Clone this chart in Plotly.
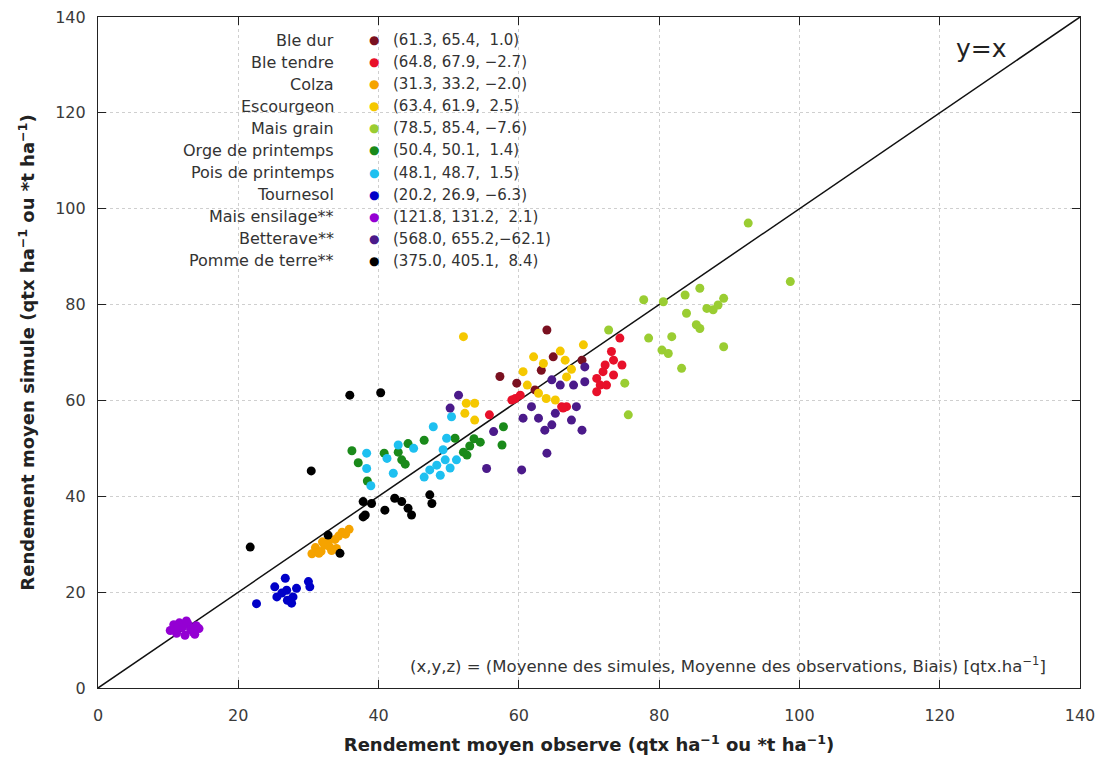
import plotly.graph_objects as go

# Crop names, colours and summary statistics (simulated mean, observed mean, bias)
crops = ["Ble dur", "Ble tendre", "Colza", "Escourgeon", "Mais grain",
         "Orge de printemps", "Pois de printemps", "Tournesol",
         "Mais ensilage**", "Betterave**", "Pomme de terre**"]
colors = ["#7a1020", "#e8102a", "#f5a300", "#f5c800", "#9acd32",
          "#1a8a1a", "#1ec0f0", "#0000c8", "#9400d3", "#4b1a8a", "#000000"]
stat_sim = [61.3, 64.8, 31.3, 63.4, 78.5, 50.4, 48.1, 20.2, 121.8, 568.0, 375.0]
stat_obs = [65.4, 67.9, 33.2, 61.9, 85.4, 50.1, 48.7, 26.9, 131.2, 655.2, 405.1]
stat_bias = [1.0, -2.7, -2.0, 2.5, -7.6, 1.4, 1.5, -6.3, 2.1, -62.1, 8.4]

# Observed (x) and simulated (y) mean yields per site
ble_dur_x = [64.0, 57.3, 59.7, 64.9, 63.2, 69.0, 62.3]
ble_dur_y = [74.7, 65.0, 63.6, 69.1, 66.3, 68.4, 62.2]

ble_tendre_x = [74.4, 73.2, 73.5, 72.3, 74.7, 73.5, 71.1, 71.6, 72.5, 71.1,
                66.8, 66.1, 59.5, 60.2, 59.0, 55.8, 66.3, 72.0]
ble_tendre_y = [73.0, 70.2, 68.4, 67.4, 67.4, 65.3, 64.6, 63.2, 63.2, 61.8,
                58.7, 58.7, 60.4, 61.1, 60.1, 57.0, 58.4, 66.0]

colza_x = [30.5, 31.0, 31.8, 32.3, 32.8, 33.3, 33.8, 34.3, 34.8, 35.3, 35.8,
           33.0, 34.0, 31.5, 32.0]
colza_y = [28.0, 29.3, 28.5, 29.8, 30.7, 28.7, 31.0, 31.7, 32.5, 32.1, 33.1,
           29.5, 29.1, 28.1, 30.5]

escourgeon_x = [52.1, 52.5, 53.7, 52.3, 53.7, 60.6, 61.2, 62.1, 63.5, 63.9,
                65.2, 65.9, 66.6, 66.8, 69.2, 67.5, 62.8]
escourgeon_y = [73.3, 59.4, 59.4, 57.3, 55.9, 66.0, 63.2, 69.1, 67.7, 60.4,
                60.1, 70.3, 68.4, 64.9, 71.6, 66.5, 61.5]

mais_grain_x = [92.7, 98.7, 77.8, 80.6, 83.7, 85.8, 83.9, 86.8, 87.7, 88.4,
                89.2, 85.8, 78.5, 81.8, 80.4, 81.3, 89.2, 83.2, 75.1, 75.6,
                72.8, 85.3]
mais_grain_y = [97.0, 84.8, 81.0, 80.6, 82.0, 83.4, 78.2, 79.2, 78.9, 79.9,
                81.3, 75.0, 73.0, 73.3, 70.5, 69.8, 71.2, 66.7, 63.6, 57.0,
                74.7, 75.8]

orge_x = [36.2, 37.1, 38.4, 40.8, 42.8, 43.3, 43.8, 44.2, 46.5, 50.9, 53.6,
          54.5, 52.1, 52.6, 57.8, 57.6, 53.0]
orge_y = [49.5, 47.0, 43.2, 49.0, 49.2, 47.6, 46.7, 51.0, 51.7, 52.1, 52.0,
          51.3, 49.2, 48.6, 54.5, 50.7, 50.5]

pois_x = [38.3, 38.3, 38.9, 41.2, 42.1, 42.8, 45.0, 47.8, 47.3, 48.3, 48.8,
          49.5, 49.7, 50.4, 50.2, 51.1, 49.2, 46.5]
pois_y = [49.0, 45.8, 42.2, 47.9, 44.8, 50.7, 50.0, 54.5, 45.5, 46.5, 44.4,
          47.6, 52.1, 56.6, 45.9, 47.6, 49.7, 44.0]

tournesol_x = [22.6, 25.2, 26.7, 26.9, 25.5, 27.8, 27.6, 30.0, 30.2, 26.2,
               28.3, 27.0]
tournesol_y = [17.6, 21.1, 22.9, 20.4, 19.0, 19.0, 17.7, 22.2, 21.1, 19.8,
               20.8, 18.3]

mais_ensilage_x = [10.3, 10.8, 11.2, 11.6, 12.0, 12.4, 12.8, 13.2, 13.6, 14.0,
                   14.4, 11.0, 12.6, 13.8]
mais_ensilage_y = [12.0, 13.2, 11.4, 13.6, 12.6, 11.0, 13.4, 12.2, 11.6, 13.0,
                   12.4, 12.2, 14.0, 11.2]

betterave_x = [69.4, 67.8, 69.4, 68.2, 60.6, 62.8, 65.2, 64.7, 63.7, 67.5,
               69.0, 64.0, 55.4, 60.4, 56.4, 61.8, 64.7, 65.9, 51.4, 50.2]
betterave_y = [67.0, 63.2, 63.9, 58.7, 56.3, 56.3, 57.3, 54.9, 53.8, 55.9,
               53.8, 49.0, 45.8, 45.5, 53.5, 58.7, 64.3, 63.2, 61.1, 58.4]

pomme_x = [21.7, 30.4, 32.8, 34.5, 35.9, 40.3, 37.8, 39.0, 37.8, 40.9, 42.3,
           43.3, 44.2, 44.7, 38.1, 47.3, 47.6]
pomme_y = [29.4, 45.3, 31.9, 28.1, 61.1, 61.6, 38.9, 38.5, 35.7, 37.1, 39.6,
           38.9, 37.5, 36.1, 36.1, 40.3, 38.5]

series_x = [ble_dur_x, ble_tendre_x, colza_x, escourgeon_x, mais_grain_x,
            orge_x, pois_x, tournesol_x, mais_ensilage_x, betterave_x, pomme_x]
series_y = [ble_dur_y, ble_tendre_y, colza_y, escourgeon_y, mais_grain_y,
            orge_y, pois_y, tournesol_y, mais_ensilage_y, betterave_y, pomme_y]

axis_ticks = [0, 20, 40, 60, 80, 100, 120, 140]
identity = [0, 140]

FONT = "DejaVu Sans, Liberation Sans, Arial, sans-serif"

fig = go.Figure()

# 1:1 reference line
fig.add_trace(go.Scatter(x=identity, y=identity, mode="lines",
                         line=dict(color="#111111", width=1.5),
                         hoverinfo="skip", showlegend=False))

for name, col, xs, ys in zip(crops, colors, series_x, series_y):
    fig.add_trace(go.Scatter(x=xs, y=ys, mode="markers", name=name,
                             marker=dict(color=col, size=9, line=dict(width=0)),
                             showlegend=False))

# Hand-built key: name, coloured dot and summary triple
annotations = []
row0, step = 135.2, 4.61
for i, (name, col, s, o, b) in enumerate(zip(crops, colors, stat_sim, stat_obs, stat_bias)):
    yv = row0 - i * step
    annotations.append(dict(x=33.9, y=yv, xref="x", yref="y", text=name,
                            showarrow=False, xanchor="right", yanchor="middle",
                            font=dict(family=FONT, size=16, color="#333333")))
    annotations.append(dict(x=39.35, y=yv, xref="x", yref="y", text="●",
                            showarrow=False, xanchor="center", yanchor="middle",
                            font=dict(family=FONT, size=12, color=col)))
    btxt = f"{b:.1f}".replace("-", "−")
    if s > 500:
        sep = ","
    elif b < 0:
        sep = ", "
    else:
        sep = ",  "
    annotations.append(dict(x=41.8, y=yv, xref="x", yref="y",
                            text=f"({s:.1f}, {o:.1f}{sep}{btxt})",
                            showarrow=False, xanchor="left", yanchor="middle",
                            font=dict(family=FONT, size=15, color="#333333")))

annotations.append(dict(x=126.0, y=133.4, xref="x", yref="y", text="y=x",
                        showarrow=False, xanchor="center", yanchor="middle",
                        font=dict(family=FONT, size=25, color="#222222")))
annotations.append(dict(x=135.5, y=4.9, xref="x", yref="y",
                        text="(x,y,z) = (Moyenne des simules, Moyenne des observations, Biais) [qtx.ha<sup>−1</sup>]",
                        showarrow=False, xanchor="right", yanchor="middle",
                        font=dict(family=FONT, size=16.5, color="#333333")))

axis_common = dict(range=[0, 140], tickvals=axis_ticks, showgrid=True,
                   gridcolor="#cfcfcf", griddash="dot", gridwidth=1,
                   zeroline=False, showline=True, linecolor="#222222",
                   linewidth=1.2, mirror="ticks", ticks="inside", ticklen=8,
                   tickcolor="#222222", automargin=False,
                   tickfont=dict(family=FONT, size=16, color="#3a3a3a"))

fig.update_layout(
    width=1107, height=760,
    margin=dict(l=98, r=27, t=17, b=72),
    paper_bgcolor="white", plot_bgcolor="white",
    font=dict(family=FONT),
    xaxis=dict(axis_common, ticklabelstandoff=13,
               title=dict(text="<b>Rendement moyen observe (qtx ha<sup>−1</sup> ou *t ha<sup>−1</sup>)</b>",
                          font=dict(family=FONT, size=18, color="#222222"), standoff=14)),
    yaxis=dict(axis_common, ticklabelstandoff=8,
               title=dict(text="<b>Rendement moyen simule (qtx ha<sup>−1</sup> ou *t ha<sup>−1</sup>)</b>",
                          font=dict(family=FONT, size=18, color="#222222"), standoff=15)),
    annotations=annotations,
)

fig.write_html("out.html")
